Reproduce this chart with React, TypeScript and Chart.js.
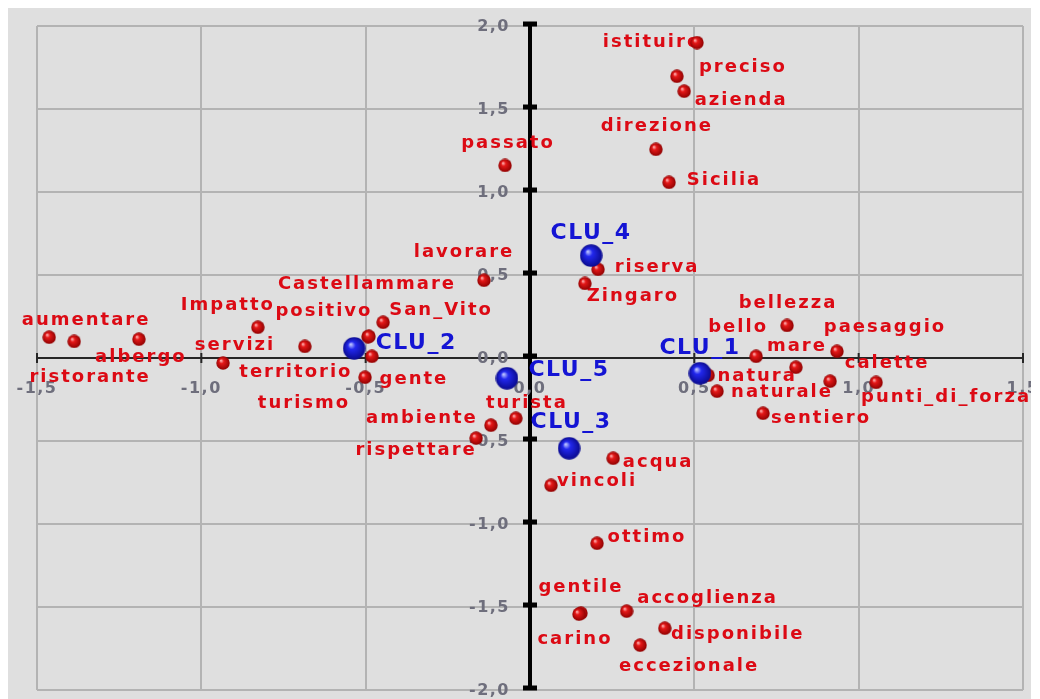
import React, { useEffect, useRef } from "react";
import { Chart, registerables } from "chart.js";

Chart.register(...registerables);

// ---- data ----
const WORDS = [
  "aumentare", "ristorante", "albergo", "Impatto", "servizi", "territorio",
  "Castellammare", "positivo", "San_Vito", "gente", "turismo", "lavorare",
  "passato", "istituire", "preciso", "azienda", "direzione", "Sicilia",
  "riserva", "Zingaro", "bello", "bellezza", "mare", "paesaggio", "calette",
  "natura", "naturale", "sentiero", "punti_di_forza", "turista", "ambiente",
  "rispettare", "acqua", "vincoli", "ottimo", "gentile", "carino",
  "accoglienza", "disponibile", "eccezionale",
];
const WORD_X = [
  -1.463, -1.387, -1.19, -0.828, -0.934, -0.685,
  -0.493, -0.49, -0.447, -0.481, -0.502, -0.14,
  -0.076, 0.508, 0.447, 0.469, 0.383, 0.423,
  0.207, 0.167, 0.688, 0.782, 0.809, 0.934, 0.913,
  0.542, 0.569, 0.709, 1.053, -0.043, -0.119,
  -0.164, 0.253, 0.064, 0.204, 0.155, 0.149,
  0.294, 0.41, 0.335,
];
const WORD_Y = [
  0.125, 0.1, 0.113, 0.185, -0.03, 0.07,
  0.129, 0.13, 0.215, 0.01, -0.116, 0.468,
  1.16, 1.9, 1.697, 1.607, 1.257, 1.058,
  0.534, 0.449, 0.01, 0.196, -0.056, 0.04, -0.14,
  -0.104, -0.2, -0.333, -0.147, -0.363, -0.405,
  -0.483, -0.604, -0.767, -1.116, -1.537, -1.543,
  -1.525, -1.628, -1.73,
];

const CLUSTERS = ["CLU_1", "CLU_2", "CLU_3", "CLU_4", "CLU_5"];
const CLUSTER_X = [0.517, -0.535, 0.119, 0.186, -0.07];
const CLUSTER_Y = [-0.092, 0.058, -0.544, 0.617, -0.122];

const X_TICKS = [-1.5, -1.0, -0.5, 0, 0.5, 1.0, 1.5];
const X_TICK_LABELS = ["-1,5", "-1,0", "-0,5", "0,0", "0,5", "1,0", "1,5"];
const Y_TICKS = [-2.0, -1.5, -1.0, -0.5, 0, 0.5, 1.0, 1.5, 2.0];
const Y_TICK_LABELS = ["-2,0", "-1,5", "-1,0", "-0,5", "0,0", "0,5", "1,0", "1,5", "2,0"];

// ---- label placement (pixel offset of label centre from its point) ----
const WORD_LABEL_DX = [
  37, 16, 2, -30, 12, -9,
  -1, -45, 58, 42, -61, -20,
  3, -45, 66, 57, 1, 55,
  59, 48, -18, 1, 1, 48, 57,
  49, 65, 58, 70, 11, -69,
  -60, 45, 46, 50, 0, -4,
  81, 73, 49,
];
const WORD_LABEL_DY = [
  -17, 36, 18, -22, -18, 26,
  -52, -25, -12, 23, 26, -28,
  -22, 0, -9, 9, -23, -2,
  -2, 13, -29, -22, -21, -24, -18,
  1, 1, 5, 15, -15, -7,
  12, 4, -4, -6, -26, 25,
  -13, 6, 21,
];
const CLUSTER_LABEL_DX = [0, 62, 2, 0, 62];
const CLUSTER_LABEL_DY = [-25, -5, -26, -22, -8];

const RED = "#dc0a14";
const BLUE = "#1414d4";
const FONT = '"DejaVu Sans", Verdana, sans-serif';

function makeSphere(d: number, light: string, base: string, dark: string) {
  const c = document.createElement("canvas");
  c.width = d;
  c.height = d;
  const g = c.getContext("2d")!;
  const r = d / 2;
  const grad = g.createRadialGradient(r * 0.7, r * 0.65, r * 0.05, r, r, r);
  grad.addColorStop(0, light);
  grad.addColorStop(0.3, base);
  grad.addColorStop(1, dark);
  g.fillStyle = grad;
  g.beginPath();
  g.arc(r, r, r - 0.3, 0, Math.PI * 2);
  g.fill();
  return c;
}

const overlayPlugin = {
  id: "overlay",
  beforeDatasetsDraw(chart: any) {
    const { ctx, chartArea } = chart;
    const xs = chart.scales.x;
    const ys = chart.scales.y;
    const x0 = xs.getPixelForValue(0);
    const y0 = ys.getPixelForValue(0);
    ctx.save();
    // horizontal axis through zero
    ctx.strokeStyle = "#262626";
    ctx.lineWidth = 2;
    ctx.beginPath();
    ctx.moveTo(chartArea.left, y0);
    ctx.lineTo(chartArea.right, y0);
    ctx.stroke();
    X_TICKS.forEach((v) => {
      const px = xs.getPixelForValue(v);
      ctx.beginPath();
      ctx.moveTo(px, y0 - 5);
      ctx.lineTo(px, y0 + 5);
      ctx.stroke();
    });
    // vertical axis through zero
    ctx.strokeStyle = "#000";
    ctx.lineWidth = 4;
    ctx.beginPath();
    ctx.moveTo(x0, chartArea.top - 4);
    ctx.lineTo(x0, chartArea.bottom);
    ctx.stroke();
    ctx.lineWidth = 5;
    Y_TICKS.forEach((v) => {
      const py = ys.getPixelForValue(v);
      ctx.beginPath();
      ctx.moveTo(x0 - 7, py - 2);
      ctx.lineTo(x0 + 7, py - 2);
      ctx.stroke();
    });
    // tick labels
    ctx.font = `bold 16px ${FONT}`;
    (ctx as any).letterSpacing = "1.5px";
    ctx.fillStyle = "#6e6e7c";
    ctx.textBaseline = "middle";
    ctx.textAlign = "center";
    X_TICKS.forEach((v, i) => {
      ctx.fillText(X_TICK_LABELS[i], xs.getPixelForValue(v), y0 + 31);
    });
    ctx.textAlign = "right";
    Y_TICKS.forEach((v, i) => {
      ctx.fillText(Y_TICK_LABELS[i], x0 - 20, ys.getPixelForValue(v) + 1);
    });
    // word labels
    ctx.textAlign = "center";
    ctx.font = `bold 18px ${FONT}`;
    (ctx as any).letterSpacing = "2px";
    ctx.fillStyle = RED;
    WORDS.forEach((w, i) => {
      const px = xs.getPixelForValue(WORD_X[i]) + WORD_LABEL_DX[i];
      const py = ys.getPixelForValue(WORD_Y[i]) + WORD_LABEL_DY[i];
      ctx.fillText(w, px, py);
    });
    ctx.font = `bold 22px ${FONT}`;
    (ctx as any).letterSpacing = "1.5px";
    ctx.fillStyle = BLUE;
    CLUSTERS.forEach((w, i) => {
      const px = xs.getPixelForValue(CLUSTER_X[i]) + CLUSTER_LABEL_DX[i];
      const py = ys.getPixelForValue(CLUSTER_Y[i]) + CLUSTER_LABEL_DY[i];
      ctx.fillText(w, px, py);
    });
    ctx.restore();
  },
};

export default function App() {
  const ref = useRef<HTMLCanvasElement | null>(null);
  useEffect(() => {
    if (!ref.current) return;
    const redBall = makeSphere(14, "#ffb0b0", "#e41818", "#8c0000");
    const blueBall = makeSphere(23, "#b8c0ff", "#2228ee", "#0a0a8c");
    const chart = new Chart(ref.current, {
      type: "scatter",
      data: {
        datasets: [
          {
            label: "clusters",
            data: CLUSTERS.map((_, i) => ({ x: CLUSTER_X[i], y: CLUSTER_Y[i] })),
            pointStyle: blueBall as any,
            pointRadius: 11,
            clip: false as any,
          },
          {
            label: "words",
            data: WORDS.map((_, i) => ({ x: WORD_X[i], y: WORD_Y[i] })),
            pointStyle: redBall as any,
            pointRadius: 7,
            clip: false as any,
          },
        ],
      },
      options: {
        animation: false,
        responsive: false,
        devicePixelRatio: 1,
        layout: { autoPadding: false, padding: { left: 29, right: 8, top: 18, bottom: 10 } },
        plugins: {
          legend: { display: false },
          tooltip: { enabled: false },
        },
        scales: {
          x: {
            type: "linear",
            min: -1.5,
            max: 1.5,
            ticks: { display: false, stepSize: 0.5 },
            grid: { color: "#b3b3b3", lineWidth: 2, drawTicks: false },
            border: { display: false },
          },
          y: {
            type: "linear",
            min: -2,
            max: 2,
            ticks: { display: false, stepSize: 0.5 },
            grid: { color: "#b3b3b3", lineWidth: 2, drawTicks: false },
            border: { display: false },
          },
        },
      },
      plugins: [overlayPlugin],
    });
    return () => chart.destroy();
  }, []);
  return (
    <div style={{ width: 1023, height: 692, background: "#dfdfdf" }}>
      <canvas ref={ref} width={1023} height={692} style={{ display: "block" }} />
    </div>
  );
}
